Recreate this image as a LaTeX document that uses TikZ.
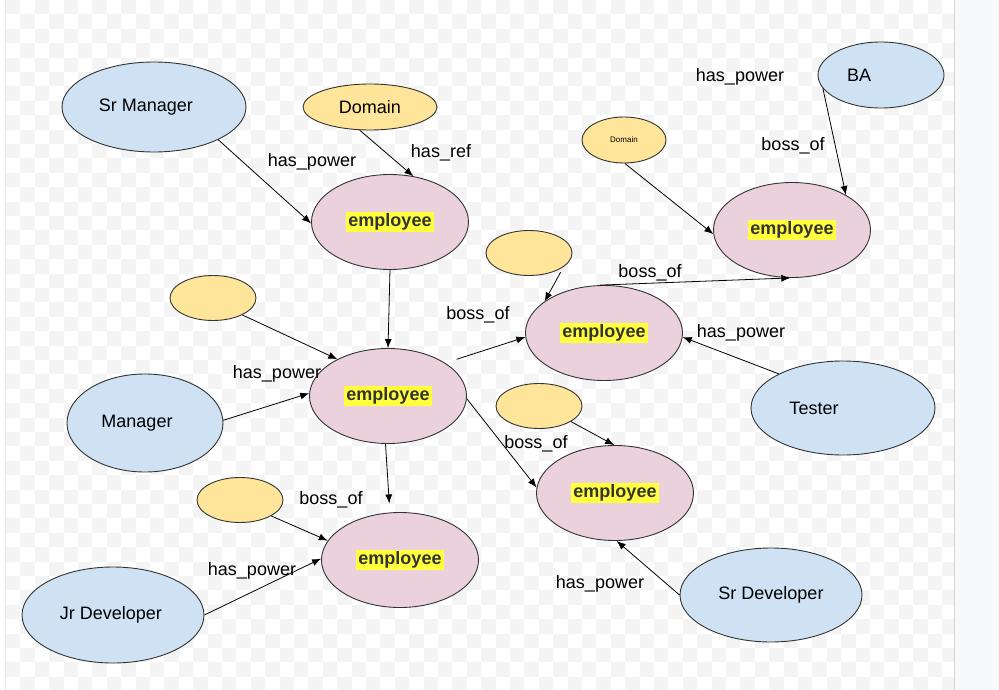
\documentclass[tikz,border=0pt]{standalone}
\usepackage{fontspec}
\setmainfont{Liberation Sans}
\usepackage{tikz}
\usetikzlibrary{positioning, shapes.geometric, arrows.meta}
\definecolor{roleCol}{HTML}{CFE2F3}
\definecolor{refCol}{HTML}{FFE599}
\definecolor{empCol}{HTML}{EAD1DC}
\definecolor{markCol}{HTML}{FFFF3D}
\definecolor{inkCol}{HTML}{333333}
\definecolor{checkCol}{HTML}{F4F4F4}
\definecolor{panelCol}{HTML}{F8F9FA}
\definecolor{ruleCol}{HTML}{D3D5D8}
\setlength{\fboxsep}{2pt}
\newcommand{\empText}{\colorbox{markCol}{\color{inkCol}\bfseries employee}}

\begin{document}
\begin{tikzpicture}[x=1pt, y=-1pt,
    every node/.style={font=\fontsize{18}{20}\selectfont},
    blob/.style={ellipse, draw=inkCol, line width=0.9pt, inner sep=0pt},
    roleNode/.style={blob, fill=roleCol},
    refNode/.style={blob, fill=refCol},
    empNode/.style={blob, fill=empCol},
    relLabel/.style={yshift=-2pt},
    rel/.style={-{Latex[length=9pt, width=7pt]}, line width=0.8pt}]
    \useasboundingbox (0,0) rectangle (999,690);
    % canvas
    \fill[white] (0,0) rectangle (999,690);
    \begin{scope}
      \clip (6,0) rectangle (954,690);
      \foreach \i in {0,...,65}{
        \pgfmathtruncatemacro\off{mod(\i,2)}
        \foreach \j in {0,2,...,46}
          \fill[checkCol] ({6+\i*14.4},{(\j+\off)*14.4}) rectangle ++(14.4,14.4);
      }
    \end{scope}
    \fill[panelCol] (955,0) rectangle (999,690);
    \draw[ruleCol] (954.5,0) -- (954.5,690);
    \draw[ruleCol!60] (5.5,0) -- (5.5,690);

    % roles
    \node[roleNode, minimum width=184pt, minimum height=90pt] (srMgr) at (154,107) {Sr Manager\hspace*{16pt}};
    \node[roleNode, minimum width=156pt, minimum height=98pt] (mgr) at (145,423) {Manager\hspace*{16pt}};
    \node[roleNode, minimum width=182pt, minimum height=96pt] (jrDev) at (113,615) {Jr Developer\hspace*{4pt}};
    \node[roleNode, minimum width=182pt, minimum height=94pt] (srDev) at (771,595) {Sr Developer};
    \node[roleNode, minimum width=184pt, minimum height=94pt] (tester) at (843,408) {Tester\hspace*{58pt}};
    \node[roleNode, minimum width=126pt, minimum height=66pt] (ba) at (881,75) {BA\hspace*{44pt}};

    % refs
    \node[refNode, minimum width=134pt, minimum height=46pt] (domTop) at (370,107) {Domain};
    \node[refNode, minimum width=84pt, minimum height=46pt, font=\fontsize{8}{9}\selectfont] (domSmall) at (624,140) {Domain};
    \foreach \name/\x/\y in {refMid/529/253, refLeft/213/298, refLow/539/406, refBot/240/500}
      \node[refNode, minimum width=86pt, minimum height=45pt] (\name) at (\x,\y) {};

    % employees
    \foreach \name/\x/\y in {empTop/390/222, empRight/792/230, empMid/604/333,
                             empCtr/388/396, empLow/615/493, empBot/400/560}
      \node[empNode, minimum width=157pt, minimum height=95pt] (\name) at (\x,\y) {\empText};

    % links
    \draw[rel] (srMgr.-27) -- (empTop.181);
    \draw[rel] (domTop.-114) -- (empTop.63);
    \draw[rel] (empTop.south) -- (empCtr.north);
    \draw[rel] (refLeft.-30) -- (empCtr.144);
    \draw[rel] (mgr.2) -- (empCtr.178);
    \draw[rel, shorten <=12pt] (empCtr.30) -- (empMid.183);
    \draw[rel, shorten <=6pt] (refMid.-22) -- (empMid.152);
    \draw[rel] (empMid.95) -- (empRight.-92);
    \draw[rel] (domSmall.-88) -- (empRight.183);
    \draw[rel] (ba.-167) -- (empRight.33);
    \draw[rel] (tester.152) -- (empMid.-3);
    \draw[rel] (empCtr.-2) -- (empLow.176);
    \draw[rel] (refLow.-26) -- (empLow.91);
    \draw[rel, shorten >=9pt] (empCtr.-93) -- (empBot.102);
    \draw[rel] (refBot.-27) -- (empBot.165);
    \draw[rel] (jrDev.0) -- (empBot.179);
    \draw[rel] (srDev.180) -- (empLow.-88);

    % labels
    \foreach \x/\y/\txt [count=\i] in {
      312/160/has\_power, 441/151/has\_ref, 277/372/has\_power,
      478/313/boss\_of, 650/271/boss\_of, 740/75/has\_power,
      793/144/boss\_of, 741/331/has\_power, 536/442/boss\_of,
      331/498/boss\_of, 252/569/has\_power, 600/582/has\_power
    }{
      \node[relLabel] (lbl\i) at (\x,\y) {\txt};
    }
\end{tikzpicture}
\end{document}
